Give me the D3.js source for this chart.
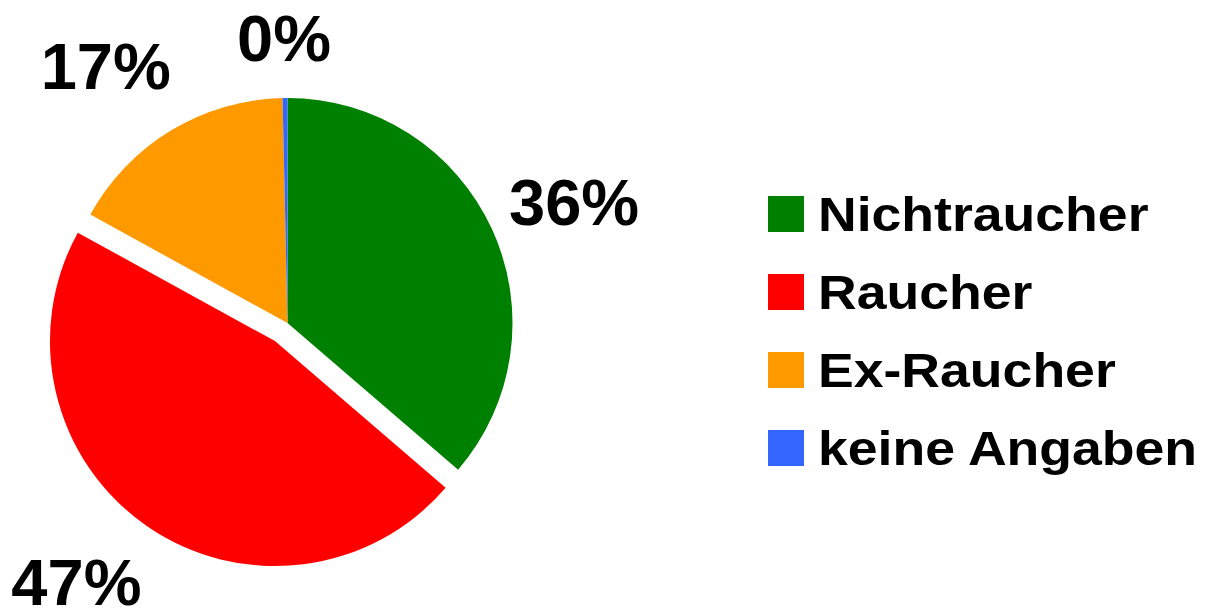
<!DOCTYPE html>
<html>
<head>
<meta charset="utf-8">
<script src="https://cdn.jsdelivr.net/npm/d3@7"></script>
<style>
  html, body { margin: 0; padding: 0; background: #ffffff; }
  svg { display: block; }
  text { font-family: "Liberation Sans", Arial, Helvetica, sans-serif; font-weight: bold; fill: #000; }
</style>
</head>
<body>
<svg id="chart" width="1205" height="613"></svg>
<script>
// Raucherstatus, Anteile in Prozent
const categories = ["Nichtraucher", "Raucher", "Ex-Raucher", "keine Angaben"];
const shares = [36.3, 46.7, 16.65, 0.35];
const colors = ["#008000", "#ff0000", "#ff9900", "#3366ff"];
const explodedSlice = "Raucher";

const W = 1205, H = 613;
const cx = 287.5, cy = 323, radius = 225;
const explodeBy = 22;          // Abstand des herausgezogenen Segments
const labelRadius = 312;       // Abstand der Prozentangaben vom Mittelpunkt
const labelSize = 65;
const halfCap = labelSize * 0.358;

const svg = d3.select("#chart");
const data = categories.map((c, i) => ({ name: c, value: shares[i], color: colors[i] }));

const pie = d3.pie().sort(null).value(d => d.value);
const arcs = pie(data);
const arc = d3.arc().innerRadius(0).outerRadius(radius);
const fmt = v => d3.format(".0f")(v) + "%";

const color = d3.scaleOrdinal().domain(categories).range(colors);

const g = svg.append("g").attr("transform", `translate(${cx},${cy})`);

function offsetOf(d) {
  if (d.data.name !== explodedSlice) return [0, 0];
  const m = (d.startAngle + d.endAngle) / 2;
  return [Math.sin(m) * explodeBy, -Math.cos(m) * explodeBy];
}

g.selectAll("path.slice")
  .data(arcs)
  .join("path")
  .attr("class", "slice")
  .attr("d", arc)
  .attr("fill", d => color(d.data.name))
  .attr("transform", d => { const [ox, oy] = offsetOf(d); return `translate(${ox},${oy})`; });

// Prozentangaben außen am Kreis
function labelPos(d) {
  const [ox, oy] = offsetOf(d);
  let a = (d.startAngle + d.endAngle) / 2;
  let x = ox + Math.sin(a) * labelRadius;
  let y = oy - Math.cos(a) * labelRadius;
  // unten nicht über den Rand hinaus: entlang des Kreises verschieben
  const maxY = H - 8 - halfCap - cy;
  if (y > maxY) {
    const c = (maxY - oy) / labelRadius;
    const side = a > Math.PI ? 1 : -1;
    a = Math.PI + side * Math.acos(Math.min(1, c));
    x = ox + Math.sin(a) * labelRadius;
    y = oy - Math.cos(a) * labelRadius;
  }
  // oben nicht abschneiden
  const minY = 14 + halfCap - cy;
  if (y < minY) y = minY;
  // kleine Korrekturen gegen Überschneidungen
  const shift = { "Nichtraucher": [3, 9], "Ex-Raucher": [-20, 10] }[d.data.name] || [0, 0];
  return [x + shift[0], y + shift[1]];
}

g.selectAll("text.pct")
  .data(arcs)
  .join("text")
  .attr("class", "pct")
  .attr("text-anchor", "middle")
  .attr("font-size", labelSize)
  .attr("x", d => labelPos(d)[0])
  .attr("y", d => labelPos(d)[1])
  .attr("dy", "0.358em")
  .text(d => fmt(d.data.value));

// Legende
const legend = svg.append("g").attr("transform", "translate(768,196)");
const rowStep = 78, box = 36;
const rows = legend.selectAll("g.row")
  .data(categories)
  .join("g")
  .attr("class", "row")
  .attr("transform", (d, i) => `translate(0,${i * rowStep})`);

rows.append("rect")
  .attr("width", box)
  .attr("height", box)
  .attr("fill", d => color(d));

rows.append("text")
  .attr("font-size", 48.5)
  .attr("transform", `translate(50,${box - 1}) scale(1.105,1)`)
  .text(d => d);
</script>
</body>
</html>
